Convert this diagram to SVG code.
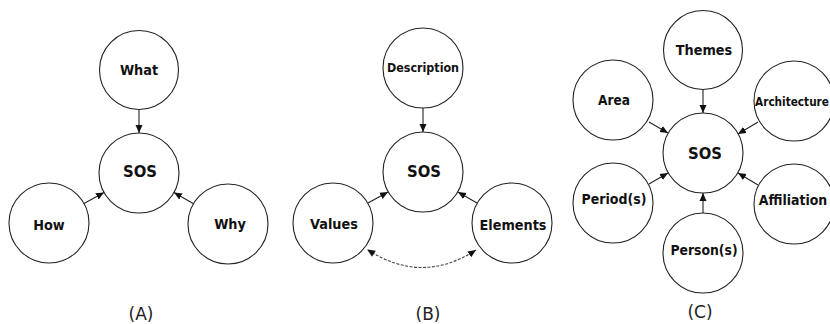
<svg xmlns="http://www.w3.org/2000/svg" width="830" height="324" viewBox="0 0 830 324">
<defs>
<marker id="ah" markerUnits="userSpaceOnUse" markerWidth="9" markerHeight="8" refX="8" refY="4" orient="auto">
<path d="M0,0.5 L8,4 L0,7.5 Z" fill="#111"/>
</marker>
<marker id="ahs" markerUnits="userSpaceOnUse" markerWidth="9" markerHeight="8" refX="1" refY="4" orient="auto">
<path d="M8,0.5 L0,4 L8,7.5 Z" fill="#111"/>
</marker>
<style>
circle{fill:#fff;stroke:#222;stroke-width:1.1}
text{font-family:"DejaVu Sans",Verdana,sans-serif;font-stretch:condensed;font-weight:bold;text-anchor:middle;fill:#111;font-size:14.3px}
.sos{font-size:16.5px}
.cap{font-weight:normal;font-stretch:normal;font-size:17px;fill:#222}
#connectors line,#connectors path{stroke:#222;stroke-width:1.1;fill:none}
#connectors .arr{marker-end:url(#ah)}
#connectors .dbl{stroke:#444;stroke-dasharray:3 1.5;marker-start:url(#ahs);marker-end:url(#ah)}
</style>
</defs>
<rect width="830" height="324" fill="#fff"/>

<g id="connectors">
<line class="arr" x1="139" y1="109" x2="139" y2="133"/>
<line class="arr" x1="84" y1="203.5" x2="104" y2="192.5"/>
<line class="arr" x1="194" y1="204" x2="174" y2="192.5"/>

<line class="arr" x1="423" y1="108" x2="423" y2="132"/>
<line class="arr" x1="368" y1="203" x2="388" y2="192"/>
<line class="arr" x1="477" y1="203" x2="458" y2="192"/>
<path class="dbl" d="M368,250 Q422,285 476,250"/>

<line class="arr" x1="703" y1="89" x2="703" y2="113"/>
<line class="arr" x1="649" y1="122" x2="668" y2="133"/>
<line class="arr" x1="758" y1="122" x2="738" y2="134"/>
<line class="arr" x1="649" y1="184" x2="668" y2="173"/>
<line class="arr" x1="758" y1="185" x2="738" y2="173"/>
<line class="arr" x1="703" y1="213" x2="703" y2="193"/>
</g>

<g id="a-what"><circle cx="139" cy="70" r="39.5"/><text x="139" y="75">What</text></g>
<g id="a-sos"><circle cx="139" cy="173" r="40"/><text class="sos" x="140" y="177">SOS</text></g>
<g id="a-how"><circle cx="49" cy="223" r="40"/><text x="49" y="230">How</text></g>
<g id="a-why"><circle cx="228" cy="224" r="40"/><text x="230" y="229">Why</text></g>
<text id="cap-a" class="cap" x="141" y="320">(A)</text>

<g id="b-desc"><circle cx="423" cy="68" r="40"/><text x="423" y="72" style="font-size:12.4px">Description</text></g>
<g id="b-sos"><circle cx="423" cy="172" r="40"/><text class="sos" x="424" y="177">SOS</text></g>
<g id="b-values"><circle cx="333" cy="223" r="40"/><text x="334" y="229">Values</text></g>
<g id="b-elements"><circle cx="512" cy="223" r="40"/><text x="513" y="230">Elements</text></g>
<text id="cap-b" class="cap" x="428" y="320">(B)</text>

<g id="c-themes"><circle cx="703" cy="50" r="39.5"/><text x="704" y="55">Themes</text></g>
<g id="c-sos"><circle cx="703" cy="153" r="40"/><text class="sos" x="705" y="159">SOS</text></g>
<g id="c-area"><circle cx="613" cy="100" r="40"/><text x="614" y="105" style="font-size:13.5px">Area</text></g>
<g id="c-arch"><circle cx="794" cy="101" r="40"/><text x="792" y="106" style="font-size:11.7px">Architecture</text></g>
<g id="c-period"><circle cx="613" cy="203" r="40"/><text x="614" y="204" style="font-size:14px">Period(s)</text></g>
<g id="c-affil"><circle cx="794" cy="204" r="40"/><text x="793" y="205" style="font-size:13.9px">Affiliation</text></g>
<g id="c-person"><circle cx="703" cy="253" r="40"/><text x="704" y="255" style="font-size:13.8px">Person(s)</text></g>
<text id="cap-c" class="cap" x="700" y="318">(C)</text>
</svg>
